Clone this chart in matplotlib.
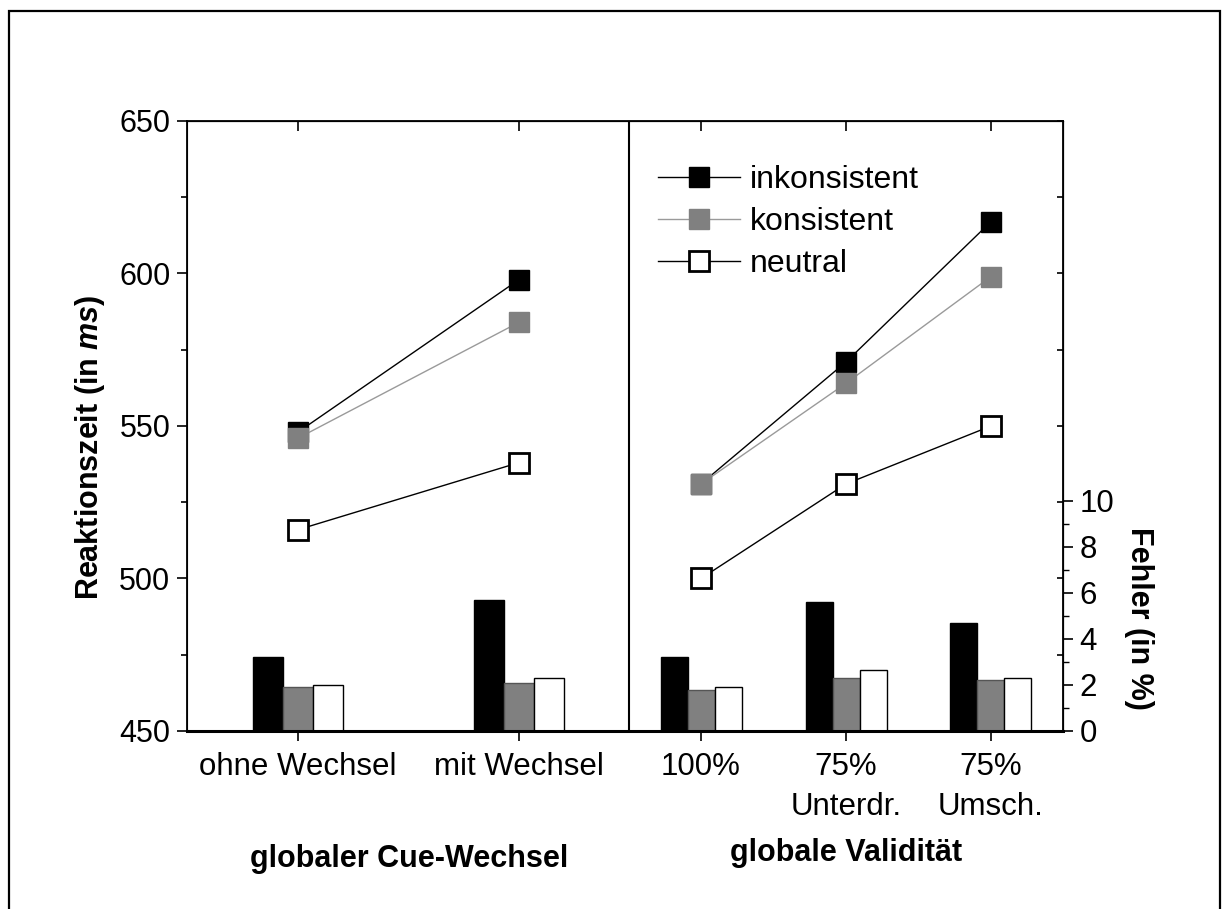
import numpy as np
import matplotlib
matplotlib.use("Agg")
import matplotlib.pyplot as plt
from matplotlib.ticker import MultipleLocator
from matplotlib.patches import Rectangle

plt.rcParams['font.family'] = ['Liberation Sans', 'DejaVu Sans']
plt.rcParams['mathtext.fontset'] = 'custom'
plt.rcParams['mathtext.it'] = 'Liberation Sans:italic:bold'

# categories
categories = ["ohne Wechsel", "mit Wechsel", "100%", "75%\nUnterdr.", "75%\nUmsch."]
group_labels = ["globaler Cue-Wechsel", "globale Validität"]
series = ["inkonsistent", "konsistent", "neutral"]

# reaction times (ms), lines
rt_ink = [548, 598, 531, 571, 617]
rt_kon = [546, 584, 531, 564, 599]
rt_neu = [516, 538, 500, 531, 550]

# error rates (%), bars
err_ink = [3.2, 5.7, 3.2, 5.6, 4.7]
err_kon = [1.9, 2.1, 1.8, 2.3, 2.2]
err_neu = [2.0, 2.3, 1.9, 2.65, 2.3]

# layout: category positions along x (left panel / right panel)
x_pos = np.array([0.0, 1.0, 1.8235, 2.4796, 3.1357])
x_div = 1.4977
bar_w = np.where(x_pos < x_div, 30, 27) / 221

fig = plt.figure(figsize=(12.25, 9.09), dpi=100)
ax = fig.add_axes([187 / 1225, 1 - 731 / 909, 876 / 1225, 610 / 909])
ax2 = ax.twinx()

# bars (errors) on the right axis
ax2.bar(x_pos - bar_w, err_ink, bar_w, color='black', edgecolor='black', lw=1)
ax2.bar(x_pos, err_kon, bar_w, color='#808080', edgecolor='#555555', lw=1)
ax2.bar(x_pos + bar_w, err_neu, bar_w, color='white', edgecolor='black', lw=1)
ax2.set_ylim(0, 610 / 23)
ax2.set_yticks(np.arange(0, 11, 2))
ax2.set_yticks(np.arange(1, 10, 2), minor=True)
ax2.tick_params(axis='y', which='major', direction='out', length=7, width=1.2, labelsize=22.5, pad=5)
ax2.tick_params(axis='y', which='minor', direction='out', length=4, width=1.0)
ax2.set_ylabel("Fehler (in %)", fontsize=22, fontweight='bold', rotation=270)
ax2.yaxis.set_label_coords(1.1039, 0.185)

# lines (reaction times), one line per panel
ax.set_zorder(ax2.get_zorder() + 1)
ax.patch.set_visible(False)
segs = [slice(0, 2), slice(2, 5)]
styles = [
    (rt_ink, dict(color='black', lw=1.0, marker='s', ms=15, mfc='black', mec='black')),
    (rt_kon, dict(color='#9a9a9a', lw=1.0, marker='s', ms=15, mfc='#808080', mec='#808080')),
    (rt_neu, dict(color='black', lw=1.0, marker='s', ms=14, mfc='white', mec='black', mew=2)),
]
handles = []
for (vals, kw), name in zip(styles, series):
    for i, s in enumerate(segs):
        ln, = ax.plot(x_pos[s], np.array(vals)[s], **kw)
        if i == 0:
            ln.set_label(name)
            handles.append(ln)

ax.axvline(x_div, color='black', lw=1.5)

ax.set_xlim(-0.5023, 3.4615)
ax.set_ylim(450, 650)
ax.set_yticks(np.arange(450, 651, 50))
ax.yaxis.set_minor_locator(MultipleLocator(25))
ax.tick_params(axis='y', which='major', direction='out', length=7, width=1.2, labelsize=22, pad=5)
ax.tick_params(axis='y', which='minor', direction='out', length=4, width=1.2)
ax.set_xticks(x_pos, categories)
ax.tick_params(axis='x', direction='out', length=7, width=1.2, labelsize=22.5, pad=8)
for t in ax.get_xticklabels():
    t.set_linespacing(1.45)
    t.set_va('top')

# inward ticks on right and top
sec_r = ax.secondary_yaxis('right')
sec_r.set_yticks(np.arange(450, 651, 25))
sec_r.tick_params(direction='in', length=4, width=1.2, labelright=False)
sec_t = ax.secondary_xaxis('top')
sec_t.set_xticks(x_pos)
sec_t.tick_params(direction='in', length=7, width=1.2, labeltop=False)

for sp in ax.spines.values():
    sp.set_linewidth(1.3)
ax.spines['bottom'].set_linewidth(2.2)

ax.set_ylabel(r"Reaktionszeit (in $\mathit{ms}$)", fontsize=22, fontweight='bold')
ax.yaxis.set_label_coords(-0.0913, 0.466)

# group labels under the x axis
ax.text(0.502, -0.21, group_labels[0], transform=ax.get_xaxis_transform(),
        ha='center', va='center', fontsize=22, fontweight='bold')
ax.text(x_pos[3], -0.2, group_labels[1], transform=ax.get_xaxis_transform(),
        ha='center', va='center', fontsize=22, fontweight='bold')

ax.legend(handles=handles, loc='upper left', bbox_to_anchor=(0.5377, 0.928), frameon=False,
          fontsize=23, handlelength=2.56, handletextpad=0.31, labelspacing=0.375, borderpad=0,
          borderaxespad=0)

# outer frame of the figure
fig.add_artist(Rectangle((9 / 1225, -0.05), 1211 / 1225, 1 - 11 / 909 + 0.05,
                         transform=fig.transFigure, fill=False, lw=1.6, ec='black'))

fig.savefig("out.png", dpi=100)
